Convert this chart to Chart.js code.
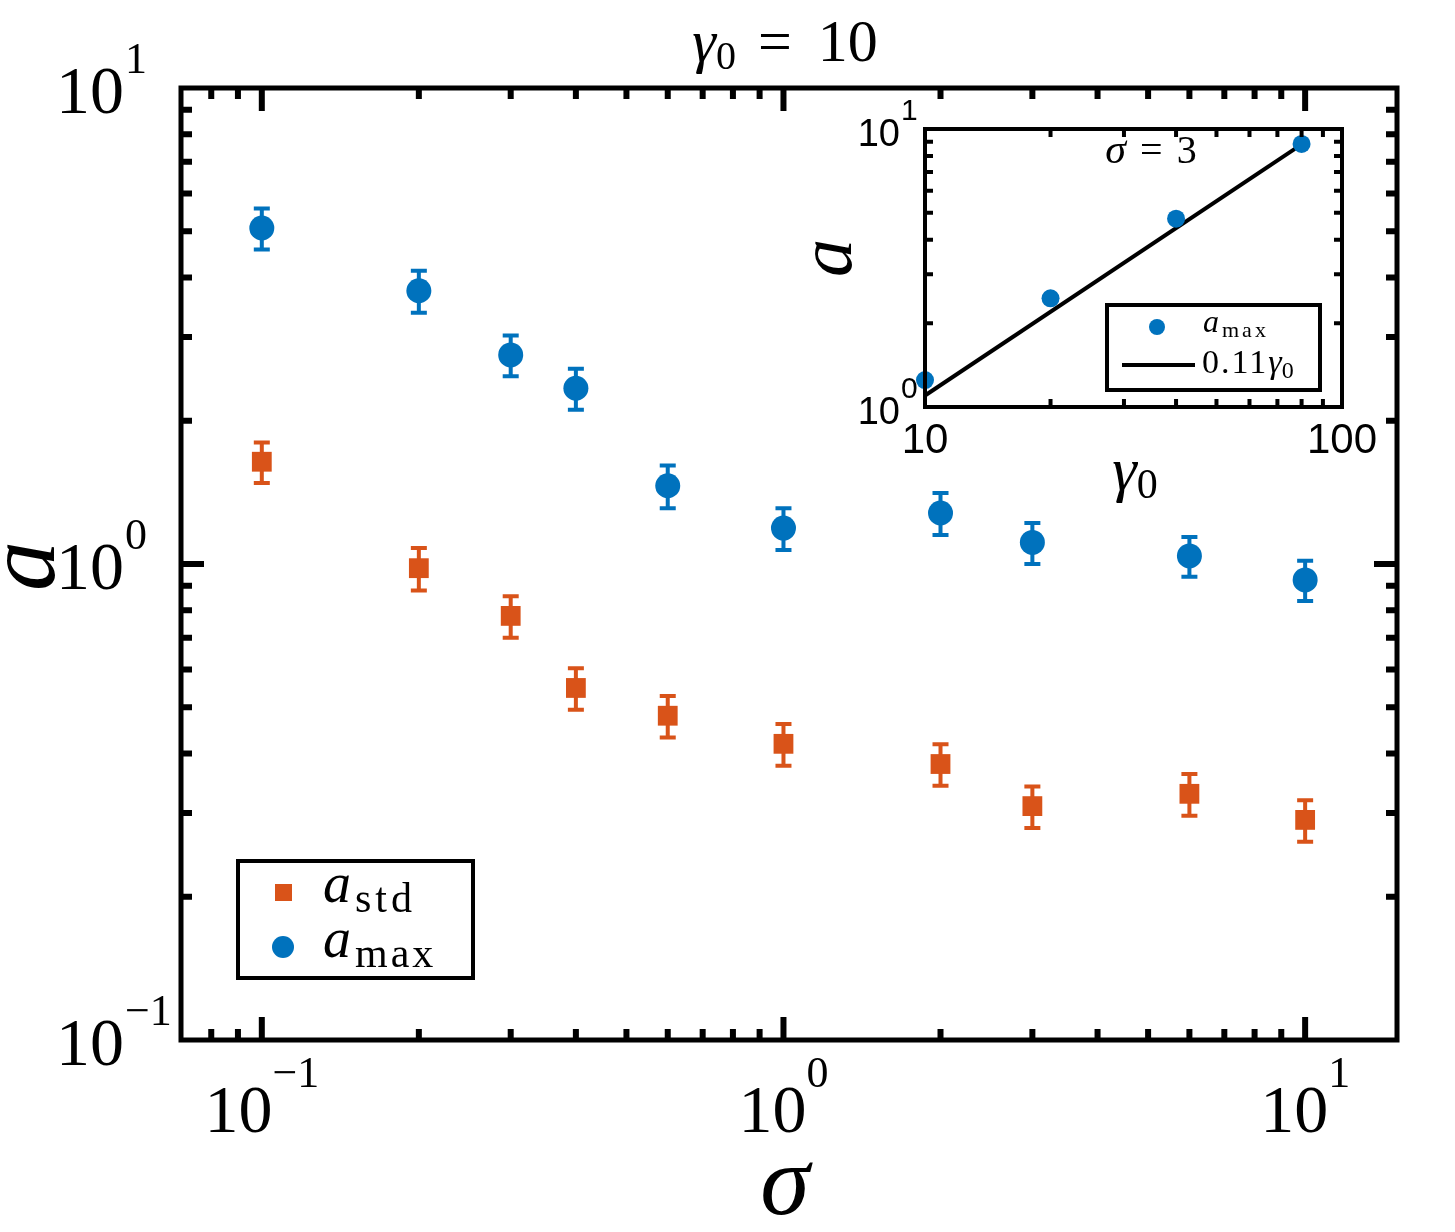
<!DOCTYPE html>
<html>
<head>
<meta charset="utf-8">
<script src="https://cdn.jsdelivr.net/npm/chart.js@4.4.1/dist/chart.umd.min.js"></script>
<style>
  html, body { margin: 0; background: #fff; }
  #wrap { position: relative; width: 1455px; height: 1232px; }
  #main { position: absolute; left: 0; top: 0; }
  #inset { position: absolute; left: 760px; top: 80px; }
</style>
</head>
<body>
<div id="wrap">
  <canvas id="main" width="1455" height="1232"></canvas>
  <canvas id="inset" width="660" height="460"></canvas>
</div>
<script>
// main panel data (gamma0 = 10)
const sigma = [0.1, 0.2, 0.3, 0.4, 0.6, 1, 2, 3, 6, 10];
const aMax = [5.08, 3.75, 2.75, 2.34, 1.46, 1.19, 1.28, 1.11, 1.04, 0.926];
const aMaxErr = [0.5, 0.38, 0.27, 0.23, 0.15, 0.12, 0.13, 0.11, 0.1, 0.09];
const aStd = [1.64, 0.98, 0.778, 0.549, 0.48, 0.419, 0.38, 0.31, 0.329, 0.29];
const aStdErr = [0.16, 0.1, 0.078, 0.055, 0.048, 0.042, 0.038, 0.031, 0.033, 0.029];

// inset data (sigma = 3)
const gamma0 = [10, 20, 40, 80];
const aMaxInset = [1.25, 2.46, 4.76, 8.84];
const fitGamma = [10, 80];
const fitA = [1.1, 8.8];

// tick labels
const xTicks = [0.1, 1, 10];
const xTickLabels = [['10', '\u22121'], ['10', '0'], ['10', '1']];
const yTicks = [0.1, 1, 10];
const yTickLabels = [['10', '\u22121'], ['10', '0'], ['10', '1']];
const insetXTicks = [10, 100];
const insetXTickLabels = ['10', '100'];
const insetYTicks = [1, 10];
const insetYTickLabels = [['10', '0'], ['10', '1']];

const BLUE = '#0072BD';
const ORANGE = '#D95319';
const SERIF = '"Liberation Serif", "Times New Roman", serif';
const SANS = '"Liberation Sans", Arial, sans-serif';

// draws a row of text pieces (for sub/superscripts)
function richWidth(ctx, parts) {
  let w = 0;
  parts.forEach(p => {
    ctx.font = p.font;
    ctx.letterSpacing = p.ls || '0px';
    w += ctx.measureText(p.t).width + (p.gap || 0);
  });
  ctx.letterSpacing = '0px';
  return w;
}
function drawRich(ctx, parts, x, y, align) {
  const w = richWidth(ctx, parts);
  let cx = align === 'center' ? x - w / 2 : (align === 'right' ? x - w : x);
  ctx.textAlign = 'left';
  ctx.textBaseline = 'alphabetic';
  parts.forEach(p => {
    ctx.font = p.font;
    ctx.letterSpacing = p.ls || '0px';
    ctx.fillText(p.t, cx, y + (p.dy || 0));
    cx += ctx.measureText(p.t).width + (p.gap || 0);
  });
  ctx.letterSpacing = '0px';
}

function minorValues(min, max) {
  const out = [];
  for (let e = Math.floor(Math.log10(min)); e <= Math.ceil(Math.log10(max)); e++) {
    for (let k = 2; k <= 9; k++) {
      const v = k * Math.pow(10, e);
      if (v > min && v < max) out.push(v);
    }
  }
  return out;
}

// inward ticks on all four sides
function drawTicks(ctx, area, xs, ys, majX, majY, lenMaj, lenMin, lw) {
  ctx.strokeStyle = '#000';
  ctx.lineWidth = lw;
  ctx.lineCap = 'butt';
  const doX = (vals, len) => vals.forEach(v => {
    const px = xs.getPixelForValue(v);
    if (px <= area.left + 1 || px >= area.right - 1) return;
    ctx.beginPath();
    ctx.moveTo(px, area.bottom); ctx.lineTo(px, area.bottom - len);
    ctx.moveTo(px, area.top); ctx.lineTo(px, area.top + len);
    ctx.stroke();
  });
  const doY = (vals, len) => vals.forEach(v => {
    const py = ys.getPixelForValue(v);
    if (py <= area.top + 1 || py >= area.bottom - 1) return;
    ctx.beginPath();
    ctx.moveTo(area.left, py); ctx.lineTo(area.left + len, py);
    ctx.moveTo(area.right, py); ctx.lineTo(area.right - len, py);
    ctx.stroke();
  });
  doX(minorValues(xs.min, xs.max), lenMin);
  doY(minorValues(ys.min, ys.max), lenMin);
  doX(majX, lenMaj);
  doY(majY, lenMaj);
}

const mainDecor = {
  id: 'mainDecor',
  beforeDatasetsDraw(chart) {
    const ctx = chart.ctx;
    const xs = chart.scales.x, ys = chart.scales.y;
    const bars = [[aMax, aMaxErr, BLUE], [aStd, aStdErr, ORANGE]];
    ctx.save();
    ctx.lineWidth = 4;
    bars.forEach(([vals, errs, col]) => {
      ctx.strokeStyle = col;
      vals.forEach((v, i) => {
        const px = xs.getPixelForValue(sigma[i]);
        const top = ys.getPixelForValue(v + errs[i]);
        const bot = ys.getPixelForValue(v - errs[i]);
        ctx.beginPath();
        ctx.moveTo(px, top); ctx.lineTo(px, bot);
        ctx.moveTo(px - 8, top); ctx.lineTo(px + 8, top);
        ctx.moveTo(px - 8, bot); ctx.lineTo(px + 8, bot);
        ctx.stroke();
      });
    });
    ctx.restore();
  },
  afterDraw(chart) {
    const ctx = chart.ctx;
    const a = chart.chartArea;
    const xs = chart.scales.x, ys = chart.scales.y;
    ctx.save();
    drawTicks(ctx, a, xs, ys, xTicks, yTicks, 23, 11, 6);
    ctx.lineWidth = 5;
    ctx.strokeStyle = '#000';
    ctx.strokeRect(a.left, a.top, a.right - a.left, a.bottom - a.top);

    ctx.fillStyle = '#000';
    // x tick labels
    xTicks.forEach((v, i) => {
      const px = xs.getPixelForValue(v);
      drawRich(ctx, [
        { t: xTickLabels[i][0], font: '68px ' + SERIF },
        { t: xTickLabels[i][1], font: '44px ' + SERIF, dy: -45 }
      ], px, a.bottom + 92, 'center');
    });
    // y tick labels
    yTicks.forEach((v, i) => {
      const py = ys.getPixelForValue(v);
      drawRich(ctx, [{ t: yTickLabels[i][0], font: '68px ' + SERIF }], 124, py + 25, 'right');
      drawRich(ctx, [{ t: yTickLabels[i][1], font: '44px ' + SERIF }], 125, py - 15, 'left');
    });

    // title
    drawRich(ctx, [
      { t: '\u03B3', font: 'italic 60px ' + SERIF },
      { t: '0', font: '40px ' + SERIF, dy: 8, gap: 22 },
      { t: '=', font: '60px ' + SERIF, gap: 26 },
      { t: '10', font: '60px ' + SERIF }
    ], (a.left + a.right) / 2 - 4, 61, 'center');

    // axis titles
    ctx.font = 'italic 100px ' + SERIF;
    ctx.textAlign = 'center';
    ctx.textBaseline = 'alphabetic';
    ctx.fillText('\u03C3', (a.left + a.right) / 2 - 4, 1214);
    ctx.save();
    ctx.translate(54, (a.top + a.bottom) / 2 + 2);
    ctx.rotate(-Math.PI / 2);
    ctx.fillText('a', 0, 0);
    ctx.restore();

    // legend
    ctx.lineWidth = 4;
    ctx.strokeStyle = '#000';
    ctx.fillStyle = '#fff';
    ctx.fillRect(238, 861, 235, 117);
    ctx.strokeRect(238, 861, 235, 117);
    ctx.fillStyle = ORANGE;
    ctx.fillRect(275, 884, 17, 17);
    ctx.fillStyle = BLUE;
    ctx.beginPath(); ctx.arc(283, 947, 11, 0, Math.PI * 2); ctx.fill();
    ctx.fillStyle = '#000';
    drawRich(ctx, [
      { t: 'a', font: 'italic 56px ' + SERIF, gap: 4 },
      { t: 'std', font: '42px ' + SERIF, dy: 10, ls: '4px' }
    ], 323, 902, 'left');
    drawRich(ctx, [
      { t: 'a', font: 'italic 56px ' + SERIF, gap: 4 },
      { t: 'max', font: '42px ' + SERIF, dy: 10, ls: '3px' }
    ], 323, 957, 'left');
    ctx.restore();
  }
};

new Chart(document.getElementById('main'), {
  type: 'scatter',
  data: {
    datasets: [
      {
        label: 'a_std',
        data: sigma.map((s, i) => ({ x: s, y: aStd[i] })),
        pointStyle: 'rect',
        pointRadius: 14,
        backgroundColor: ORANGE,
        borderWidth: 0
      },
      {
        label: 'a_max',
        data: sigma.map((s, i) => ({ x: s, y: aMax[i] })),
        pointStyle: 'circle',
        pointRadius: 12.5,
        backgroundColor: BLUE,
        borderWidth: 0
      }
    ]
  },
  options: {
    responsive: false,
    animation: false,
    events: [],
    layout: { padding: { left: 0, top: 88, right: 58, bottom: 0 } },
    plugins: { legend: { display: false }, tooltip: { enabled: false } },
    scales: {
      x: {
        type: 'logarithmic', min: 0.07, max: 15,
        ticks: { display: false },
        grid: { display: false, drawTicks: false },
        border: { display: false },
        afterFit: s => { s.height = 192; }
      },
      y: {
        type: 'logarithmic', min: 0.1, max: 10,
        ticks: { display: false },
        grid: { display: false, drawTicks: false },
        border: { display: false },
        afterFit: s => { s.width = 181; }
      }
    }
  },
  plugins: [mainDecor]
});

// inset: a_max against gamma0
const insetDecor = {
  id: 'insetDecor',
  afterDraw(chart) {
    const ctx = chart.ctx;
    const a = chart.chartArea;
    const xs = chart.scales.x, ys = chart.scales.y;
    ctx.save();
    drawTicks(ctx, a, xs, ys, insetXTicks, insetYTicks, 12, 8, 4);
    ctx.lineWidth = 4;
    ctx.strokeStyle = '#000';
    ctx.strokeRect(a.left, a.top, a.right - a.left, a.bottom - a.top);

    ctx.fillStyle = '#000';
    insetXTicks.forEach((v, i) => {
      drawRich(ctx, [{ t: insetXTickLabels[i], font: '42px ' + SANS }], xs.getPixelForValue(v), a.bottom + 46, 'center');
    });
    insetYTicks.forEach((v, i) => {
      const py = ys.getPixelForValue(v);
      drawRich(ctx, [{ t: insetYTickLabels[i][0], font: '38px ' + SANS }], 140, py + 17, 'right');
      drawRich(ctx, [{ t: insetYTickLabels[i][1], font: '30px ' + SANS }], 141, py - 9, 'left');
    });

    // page coordinates from here
    ctx.translate(-760, -80);
    drawRich(ctx, [
      { t: '\u03C3', font: 'italic 42px ' + SERIF, gap: 14 },
      { t: '=', font: '40px ' + SERIF, gap: 14 },
      { t: '3', font: '40px ' + SERIF }
    ], 1151, 163, 'center');
    drawRich(ctx, [
      { t: '\u03B3', font: 'italic 62px ' + SERIF },
      { t: '0', font: '42px ' + SERIF, dy: 8 }
    ], 1135, 490, 'center');
    ctx.save();
    ctx.font = 'italic 76px ' + SERIF;
    ctx.textAlign = 'center';
    ctx.translate(851, 258);
    ctx.rotate(-Math.PI / 2);
    ctx.fillText('a', 0, 0);
    ctx.restore();

    // legend
    ctx.lineWidth = 4;
    ctx.fillStyle = '#fff';
    ctx.fillRect(1107, 305, 213, 85);
    ctx.strokeRect(1107, 305, 213, 85);
    ctx.fillStyle = BLUE;
    ctx.beginPath(); ctx.arc(1157, 327, 8, 0, Math.PI * 2); ctx.fill();
    ctx.strokeStyle = '#000';
    ctx.beginPath(); ctx.moveTo(1122, 365); ctx.lineTo(1195, 365); ctx.stroke();
    ctx.fillStyle = '#000';
    drawRich(ctx, [
      { t: 'a', font: 'italic 32px ' + SERIF, gap: 3 },
      { t: 'max', font: '22px ' + SERIF, dy: 5, ls: '3px' }
    ], 1203, 332, 'left');
    drawRich(ctx, [
      { t: '0.11', font: '34px ' + SERIF, ls: '2px' },
      { t: '\u03B3', font: 'italic 34px ' + SERIF },
      { t: '0', font: '24px ' + SERIF, dy: 5 }
    ], 1202, 373, 'left');
    ctx.restore();
  }
};

new Chart(document.getElementById('inset'), {
  type: 'scatter',
  data: {
    datasets: [
      {
        label: '0.11 gamma0',
        data: fitGamma.map((g, i) => ({ x: g, y: fitA[i] })),
        showLine: true,
        borderColor: '#000',
        borderWidth: 4,
        pointRadius: 0,
        clip: false,
        order: 2
      },
      {
        label: 'a_max',
        data: gamma0.map((g, i) => ({ x: g, y: aMaxInset[i] })),
        pointStyle: 'circle',
        pointRadius: 9,
        backgroundColor: BLUE,
        borderWidth: 0,
        clip: false,
        order: 1
      }
    ]
  },
  options: {
    responsive: false,
    animation: false,
    events: [],
    layout: { padding: { left: 0, top: 49, right: 78, bottom: 0 } },
    plugins: { legend: { display: false }, tooltip: { enabled: false } },
    scales: {
      x: {
        type: 'logarithmic', min: 10, max: 100,
        ticks: { display: false },
        grid: { display: false, drawTicks: false },
        border: { display: false },
        afterFit: s => { s.height = 133; }
      },
      y: {
        type: 'logarithmic', min: 1, max: 10,
        ticks: { display: false },
        grid: { display: false, drawTicks: false },
        border: { display: false },
        afterFit: s => { s.width = 165; }
      }
    }
  },
  plugins: [insetDecor]
});
</script>
</body>
</html>
